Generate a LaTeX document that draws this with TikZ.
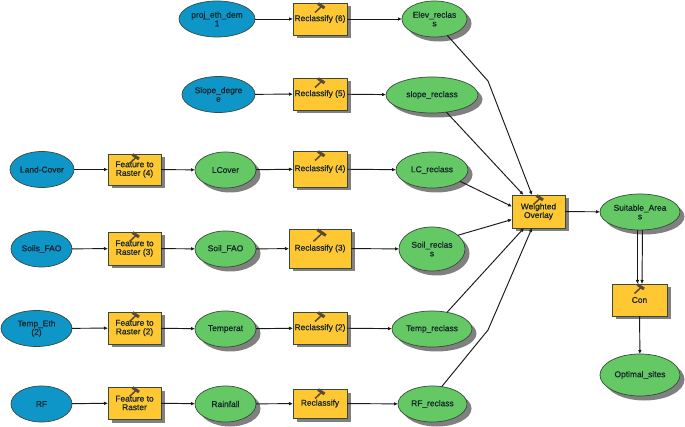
\documentclass[tikz,border=0pt]{standalone}
\usepackage{fontspec}
\usetikzlibrary{arrows.meta,shapes.geometric,shadows}
\newfontfamily\lbl{Liberation Sans}[FakeBold=0.7]
\definecolor{inblue}{HTML}{0F96C8}
\definecolor{outgreen}{HTML}{64C864}
\definecolor{toolyellow}{HTML}{FFC832}
\definecolor{edgedark}{HTML}{3A4A3A}
\definecolor{inkdark}{HTML}{16262C}
\definecolor{shadowgray}{HTML}{808080}
\definecolor{hammerbrown}{HTML}{5A4A30}
\tikzset{
  x=1pt,y=-1pt,
  base/.style={font=\lbl\fontsize{8.4}{8.6}\selectfont,text=inkdark,align=center,inner sep=0pt,outer sep=0pt,draw=edgedark,line width=.7pt},
  inp/.style={base,ellipse,fill=inblue,minimum width=#1,minimum height=36pt},
  inp/.default=61pt,
  outp/.style={base,ellipse,fill=outgreen,minimum width=#1,minimum height=36pt,
    drop shadow={shadow xshift=4.5pt,shadow yshift=-4.5pt,fill=shadowgray,opacity=1}},
  outp/.default=61pt,
  tool/.style={base,rectangle,fill=toolyellow,
    drop shadow={shadow xshift=3.5pt,shadow yshift=-3.5pt,fill=shadowgray,opacity=1}},
  link/.style={draw=black!90,line width=.95pt,-{Latex[length=4pt,width=3.6pt]}},
  hammer/.pic={
    \draw[line width=1.5pt,draw=hammerbrown] (-5,9.5) -- (2,3);
    \draw[line width=3pt,draw=hammerbrown] (-2,0.5) -- (4.5,5);
  }
}
\begin{document}
\begin{tikzpicture}
\useasboundingbox[fill=white] (0,0) rectangle (685,427);
% input ellipses
\node[inp=76pt] (dem) at (217,19) {proj\_eth\_dem\\1};
\node[inp=73pt] (slo) at (218.5,94.5) {Slope\_degre\\e};
\node[inp=64pt] (lan) at (42,169.5) {Land-Cover};
\node[inp] (soi) at (41.5,249) {Soils\_FAO};
\node[inp=71pt] (tem) at (36.5,328.5) {Temp\_Eth\\(2)};
\node[inp] (rfi) at (41.5,404) {RF};
% Feature to Raster
\node[tool,minimum width=53pt,minimum height=31pt] (f4) at (134.5,169.5) {Feature to\\Raster (4)};
\node[tool,minimum width=53pt,minimum height=33pt] (f3) at (134.5,248.5) {Feature to\\Raster (3)};
\node[tool,minimum width=53pt,minimum height=32pt] (f2) at (134.5,328) {Feature to\\Raster (2)};
\node[tool,minimum width=53pt,minimum height=32pt] (f1) at (134.5,403) {Feature to\\Raster};
% intermediate
\node[outp] (lco) at (225.5,170) {LCover};
\node[outp] (sfa) at (225.5,249) {Soil\_FAO};
\node[outp] (tpt) at (225.5,329) {Temperat};
\node[outp] (rai) at (225.5,404) {Rainfall};
% Reclassify
\node[tool,minimum width=54pt,minimum height=32pt] (r6) at (320,19) {Reclassify (6)};
\node[tool,minimum width=54pt,minimum height=32pt] (r5) at (320,94) {Reclassify (5)};
\node[tool,minimum width=54pt,minimum height=36pt] (r4) at (320,169) {Reclassify (4)};
\node[tool,minimum width=62pt,minimum height=39pt] (r3) at (320,248.5) {Reclassify (3)};
\node[tool,minimum width=54pt,minimum height=32pt] (r2) at (320,328) {Reclassify (2)};
\node[tool,minimum width=54pt,minimum height=29pt] (r1) at (320,403.5) {Reclassify};
% reclass outputs
\node[outp=65pt] (elv) at (434.5,19) {Elev\_reclas\\s};
\node[outp=92pt] (srl) at (432,95) {slope\_reclass};
\node[outp=72pt] (lcr) at (432,170) {LC\_reclass};
\node[outp=66pt,minimum height=44pt] (sor) at (432,249) {Soil\_reclas\\s};
\node[outp=80pt] (tpr) at (432,329) {Temp\_reclass};
\node[outp=69pt] (rfr) at (432.5,404) {RF\_reclass};
% overlay, result
\node[tool,minimum width=53pt,minimum height=33pt] (wov) at (538.5,211.5) {Weighted\\Overlay};
\node[outp=80pt] (sui) at (640,212) {Suitable\_Area\\s};
\node[tool,minimum width=55pt,minimum height=32pt] (con) at (639.5,300) {Con};
\node[outp=80pt,minimum height=42pt] (opt) at (640,375) {Optimal\_sites};
% hammers
\foreach \n in {f4,f3,f2,f1,r6,r5,r4,r2,r1,wov,con}{\pic at (\n.north) {hammer};}
\pic[scale=1.3] at (r3.north) {hammer};
% bends
\coordinate (bendA) at (488,81);
\coordinate (bendB) at (488,330);
% connectors
\draw[link] (dem) -- (r6);
\draw[link] (slo) -- (r5);
\draw[link] (r6) -- (elv);
\draw[link] (r5) -- (srl);
\draw[link] (lan) -- (f4);
\draw[link] (f4) -- (lco);
\draw[link] (lco) -- (r4);
\draw[link] (r4) -- (lcr);
\draw[link] (soi) -- (f3);
\draw[link] (f3) -- (sfa);
\draw[link] (sfa) -- (r3);
\draw[link] (r3) -- (sor);
\draw[link] (tem) -- (f2);
\draw[link] (f2) -- (tpt);
\draw[link] (tpt) -- (r2);
\draw[link] (r2) -- (tpr);
\draw[link] (rfi) -- (f1);
\draw[link] (f1) -- (rai);
\draw[link] (rai) -- (r1);
\draw[link] (r1) -- (rfr);
\draw[link] (elv.-52) -- (bendA) -- ([xshift=-6.5pt]wov.north);
\draw[link] (srl.-50) -- ([xshift=-15pt]wov.north);
\draw[link] (lcr.-22) -- ([yshift=5pt]wov.west);
\draw[link] (sor.28) -- ([yshift=-8pt]wov.west);
\draw[link] (tpr.48) -- ([xshift=-14.5pt]wov.south);
\draw[link] (rfr.62) -- (bendB) -- ([xshift=-6.5pt]wov.south);
\draw[link] (wov) -- (sui);
\draw[link] ([xshift=-2.5pt]sui.south) -- ([xshift=-2pt]con.north);
\draw[link] ([xshift=2.5pt]sui.south) -- ([xshift=2.5pt]con.north);
\draw[link] (con) -- (opt);
\end{tikzpicture}
\end{document}
